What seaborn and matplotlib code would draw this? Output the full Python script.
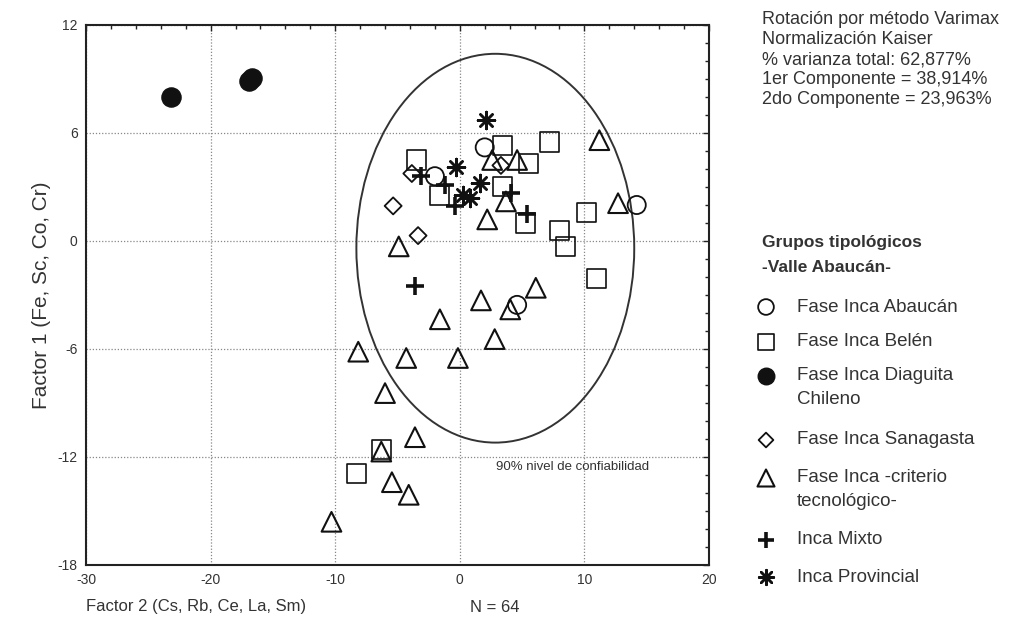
import numpy as np
import pandas as pd
import seaborn as sns
import matplotlib
matplotlib.use("Agg")
import matplotlib.pyplot as plt
from matplotlib.patches import Ellipse
from matplotlib.ticker import MultipleLocator

# Factor scores per typological group (x = Factor 2, y = Factor 1)
abaucan_x = [2.0, -2.0, 14.2, 4.6]
abaucan_y = [5.2, 3.6, 2.0, -3.55]

belen_x = [-3.5, 3.4, 7.2, 5.5, 3.4, -1.6, 5.3, 10.2, 8.0, 8.5, 11.0, -6.3, -8.3]
belen_y = [4.5, 5.3, 5.5, 4.3, 3.05, 2.55, 1.0, 1.6, 0.6, -0.3, -2.1, -11.6, -12.9]

diaguita_x = [-23.2, -16.95, -16.65]
diaguita_y = [8.0, 8.9, 9.05]

sanagasta_x = [3.3, -3.85, -5.35, -3.35]
sanagasta_y = [4.2, 3.75, 1.95, 0.3]

tecnologico_x = [11.2, 2.6, 4.6, 3.7, 2.2, 12.7, -4.9, 6.1, 1.7, 4.05, -1.6,
                 2.8, -8.15, -4.3, -0.15, -6.0, -3.6, -6.3, -5.45, -4.1, -10.3]
tecnologico_y = [5.6, 4.5, 4.5, 2.2, 1.2, 2.1, -0.3, -2.6, -3.3, -3.8, -4.35,
                 -5.45, -6.15, -6.5, -6.5, -8.45, -10.9, -11.7, -13.4, -14.1, -15.6]

mixto_x = [-3.1, -1.2, -0.4, 4.1, 5.4, -3.6]
mixto_y = [3.6, 3.1, 1.95, 2.65, 1.5, -2.5]

provincial_x = [2.1, -0.3, 1.6, 0.25, 0.8]
provincial_y = [6.7, 4.1, 3.25, 2.55, 2.4]

group_labels = ["Fase Inca Abaucán", "Fase Inca Belén", "Fase Inca Diaguita\nChileno",
                "Fase Inca Sanagasta", "Fase Inca -criterio\ntecnológico-",
                "Inca Mixto", "Inca Provincial"]

# 90% confidence ellipse
ellipse_center = (2.85, -0.4)
ellipse_width = 22.3
ellipse_height = 21.6

info_lines = ["Rotación por método Varimax", "Normalización Kaiser",
              "% varianza total: 62,877%", "1er Componente = 38,914%",
              "2do Componente = 23,963%"]

sns.set_style("white")
plt.rcParams["font.family"] = ["Liberation Sans", "DejaVu Sans"]
plt.rcParams["text.color"] = "#222222"
plt.rcParams["axes.unicode_minus"] = False

frames = []
for name, xs, ys in [
    (group_labels[0], abaucan_x, abaucan_y),
    (group_labels[1], belen_x, belen_y),
    (group_labels[2], diaguita_x, diaguita_y),
    (group_labels[3], sanagasta_x, sanagasta_y),
    (group_labels[4], tecnologico_x, tecnologico_y),
    (group_labels[5], mixto_x, mixto_y),
    (group_labels[6], provincial_x, provincial_y),
]:
    frames.append(pd.DataFrame({"f2": xs, "f1": ys, "grupo": name}))
df = pd.concat(frames, ignore_index=True)

styles = {
    group_labels[0]: dict(marker="o", s=170, facecolors="none", edgecolor="#111", linewidths=1.3),
    group_labels[1]: dict(marker="s", s=190, facecolors="none", edgecolor="#111", linewidths=1.2),
    group_labels[2]: dict(marker="o", s=190, facecolors="#111", edgecolor="#111", linewidths=1.0),
    group_labels[3]: dict(marker="D", s=75, facecolors="none", edgecolor="#111", linewidths=1.3),
    group_labels[4]: dict(marker="^", s=200, facecolors="none", edgecolor="#111", linewidths=1.5),
    group_labels[5]: dict(marker="+", s=170, color="#111", linewidths=2.6),
    group_labels[6]: dict(marker=(8, 2, 0), s=150, color="#111", linewidths=1.8),
}

fig = plt.figure(figsize=(10.14, 6.22), dpi=100)
ax = fig.add_axes([86 / 1014, 1 - 565 / 622, (709 - 86) / 1014, (565 - 25) / 622])

for name in group_labels:
    sub = df[df["grupo"] == name]
    sns.scatterplot(data=sub, x="f2", y="f1", ax=ax, legend=False, zorder=3,
                    **styles[name])

ax.add_patch(Ellipse(ellipse_center, ellipse_width, ellipse_height, fill=False,
                     edgecolor="#333", linewidth=1.4, zorder=2))
ax.text(2.9, -12.55, "90% nivel de confiabilidad", fontsize=9.5, va="center",
        ha="left", color="#333")

ax.set_xlim(-30, 20)
ax.set_ylim(-18, 12)
ax.xaxis.set_major_locator(MultipleLocator(10))
ax.yaxis.set_major_locator(MultipleLocator(6))
ax.xaxis.set_minor_locator(MultipleLocator(2))
ax.yaxis.set_minor_locator(MultipleLocator(1))
ax.grid(True, which="major", linestyle=(0, (1, 1.5)), color="#888", linewidth=0.9)
ax.tick_params(which="both", direction="in", top=True, right=True, color="#222",
               labelsize=10, labelcolor="#333")
ax.tick_params(which="major", length=4, width=1.0, pad=6)
ax.tick_params(which="minor", length=3, width=1.0)
for sp in ax.spines.values():
    sp.set_color("#222")
    sp.set_linewidth(1.5)
ax.set_xlabel("")
ax.set_ylabel("Factor 1 (Fe, Sc, Co, Cr)", fontsize=15, color="#333", labelpad=5)

fig.text(86 / 1014, 1 - 607 / 622, "Factor 2 (Cs, Rb, Ce, La, Sm)", fontsize=12,
         va="center", ha="left", color="#333")
fig.text(470 / 1014, 1 - 607 / 622, "N = 64", fontsize=12, va="center",
         ha="left", color="#333")

# Side panel: analysis notes and legend
for i, line in enumerate(info_lines):
    fig.text(762 / 1014, 1 - (20 + 20 * i) / 622, line, fontsize=13,
             va="center", ha="left", color="#333")

fig.text(762 / 1014, 1 - 243 / 622, "Grupos tipológicos", fontsize=12.5,
         fontweight="bold", va="center", ha="left", color="#333")
fig.text(762 / 1014, 1 - 267 / 622, "-Valle Abaucán-", fontsize=12.5,
         fontweight="bold", va="center", ha="left", color="#333")

leg = fig.add_axes([0, 0, 1, 1], zorder=5)
leg.set_xlim(0, 1014)
leg.set_ylim(622, 0)
leg.axis("off")
leg.patch.set_alpha(0)

legend_rows = [307, 342, 376, 440, 478, 540, 577]
for name, yrow in zip(group_labels, legend_rows):
    st = dict(styles[name])
    s = st.pop("s")
    st["s"] = s * 0.75
    leg.scatter([766], [yrow], **st)
    lines = name.split("\n")
    for j, t in enumerate(lines):
        leg.text(797, yrow + 24 * j, t, fontsize=13.5, va="center", ha="left",
                 color="#333")

fig.savefig("out.png", dpi=100)
